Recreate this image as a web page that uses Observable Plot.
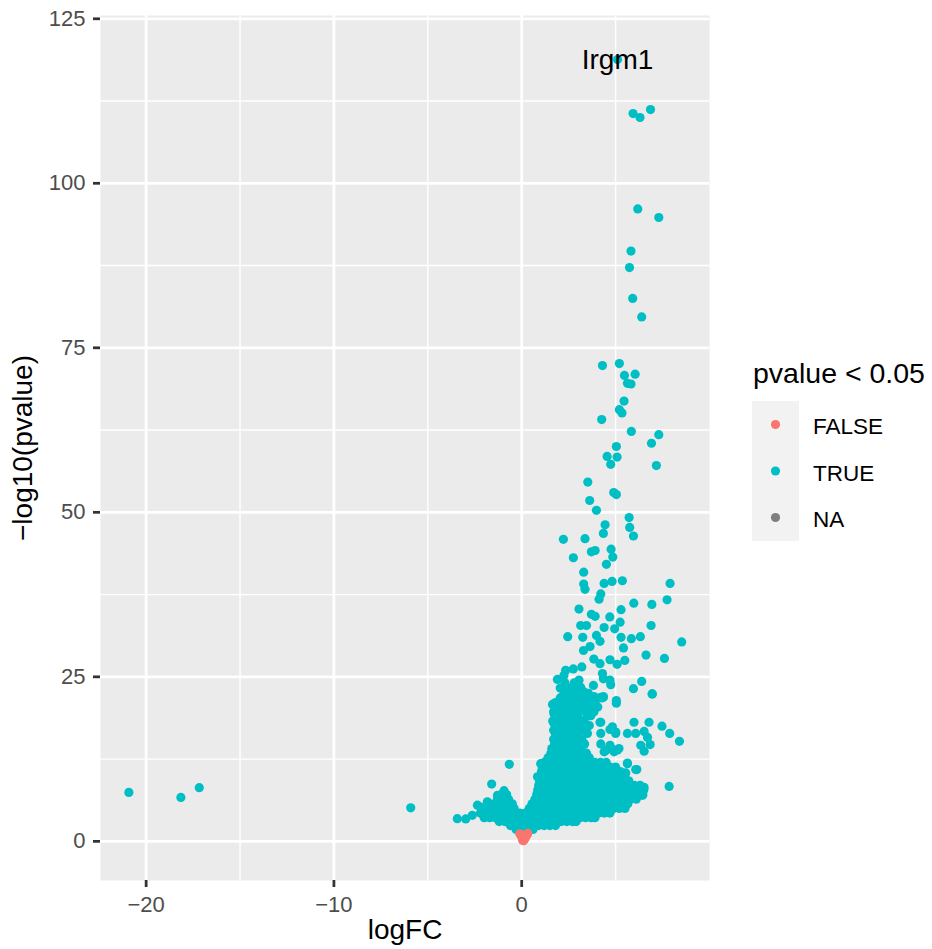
<!DOCTYPE html>
<html><head><meta charset="utf-8">
<script src="https://cdn.jsdelivr.net/npm/d3@7"></script>
<script src="https://cdn.jsdelivr.net/npm/@observablehq/plot@0.6"></script>
<style>
body{margin:0;background:#fff;}
#wrap{position:relative;width:932px;height:949px;font-family:"Liberation Sans",Arial,Helvetica,sans-serif;}
#wrap svg{display:block;}
#legend{position:absolute;left:0;top:0;pointer-events:none;}
</style></head><body><div id="wrap"></div>
<script>
// ---- data: [logFC, -log10(pvalue)] ----
const farLeftGenes = [[-20.92,7.44],[-18.15,6.68],[-17.17,8.15],[-5.91,5.1]];
const leftArmGenes = [[-3.43,3.45],[-2.98,3.4],[-2.63,3.95],[-2.36,5.5],[-2.18,5.2],[-1.83,6.0],[-1.6,8.7],[-0.66,11.7],[-1.29,7.0],[-0.94,7.7],[-0.85,6.7]];
const topGenes = [[5.10,118.8],[5.93,110.6],[6.30,110.0],[6.86,111.2],[6.18,96.1],[7.30,94.8],[5.82,89.7],[5.74,87.2],[5.91,82.5],[6.39,79.7]];
const midGenes = [[4.30,72.3],[5.20,72.6],[5.47,70.8],[6.04,71.0],[5.63,69.6],[5.82,69.5],[5.45,66.9],[5.20,65.6],[5.34,65.1],[4.26,64.1],[5.84,62.3],[7.30,61.8],[6.91,60.5],[5.04,60.0],[4.55,58.5],[5.08,58.4],[4.74,57.3],[7.17,57.1],[3.52,54.6],[4.90,53.0],[5.04,52.7],[3.62,51.8],[3.98,50.3],[5.72,49.2],[4.44,48.1],[5.75,47.7],[4.35,46.8],[5.95,46.4],[2.22,45.9],[3.37,46.0],[3.91,44.2],[3.71,44.0],[4.76,44.4],[4.85,43.2],[2.75,43.1],[4.51,42.1],[3.30,40.9],[3.30,39.1],[3.37,38.3],[4.39,39.2],[4.81,39.5],[5.36,39.6],[7.90,39.2],[4.21,37.6],[4.12,36.8],[7.74,36.7],[5.97,36.2],[6.93,36.0],[3.05,35.3],[5.29,35.2],[3.71,34.5],[3.91,34.2],[4.69,34.1],[5.24,33.3],[3.14,32.8],[3.45,32.8],[4.39,32.5],[4.95,32.3],[6.89,32.8],[2.45,31.1],[3.25,31.0],[3.98,31.3],[5.29,31.0],[5.84,30.8],[6.32,31.1],[8.52,30.3]];
const lowerGenes = [[4.17,30.4],[3.64,29.6],[3.29,29.0],[5.42,29.4],[6.62,28.3],[7.60,27.8],[3.84,27.7],[4.70,27.6],[5.49,27.5],[5.08,26.9],[4.17,27.0],[3.20,26.5],[2.75,26.2],[2.34,26.0],[1.90,24.6],[2.25,25.2],[2.22,23.2],[4.30,25.5],[4.35,24.7],[4.70,24.5],[4.74,23.8],[3.05,24.5],[3.14,23.4],[3.32,22.7],[3.82,23.7],[6.39,24.3],[5.95,23.2],[6.94,22.4],[2.61,21.9],[2.79,22.2],[4.35,22.0],[5.04,21.4],
  [1.64,20.8],[1.86,20.2],[1.72,19.4],[2.79,22.4],[3.32,22.4],[3.85,22.0],[4.35,21.9],[5.04,21.0],[3.68,19.1],[1.72,17.9],[2.25,18.4],[2.61,17.9],[4.17,18.1],[4.83,17.4],[5.01,16.6],[5.98,18.1],[6.78,18.1],[7.47,17.5],[7.88,16.4],[8.40,15.2],[5.63,16.4],[6.07,16.4],[6.52,16.7],[6.70,15.8],[6.34,14.6],[6.84,14.7],[6.52,13.7],[3.14,16.9],[3.50,16.4],[4.21,16.4],[1.90,15.1],[1.72,13.8],[4.70,14.6],[5.18,14.1],[4.39,13.6],[4.92,13.6],[5.63,11.8],[6.07,10.9],[5.10,10.5],[5.45,10.3],[1.01,11.8],[0.84,9.8],
  [4.21,14.8],[4.48,13.8],[4.74,14.1],[5.10,13.9],[4.70,17.0],[5.00,16.4],[4.21,18.1],[5.63,11.9],[5.54,10.4],[6.52,8.2],[6.43,7.0],[6.96,22.4],[4.21,21.9],[7.85,8.35],[6.13,10.9]];
// dense cloud near the origin, row by row: [-log10(pvalue), logFC values]
const denseRows = [
  [1.8,[-0.3,0,0.3,0.6]],
  [2.4,[-0.6,-0.3,0,0.3,0.6,0.9,1.2,1.5,1.8]],
  [3.0,[-1.2,-0.9,-0.6,-0.3,0,0.3,0.6,0.9,1.2,1.5,1.8,2.1,2.4,2.7,2.9]],
  [3.6,[-2.0,-1.7,-1.4,-1.1,-0.8,-0.5,-0.2,0.1,0.4,0.7,1.0,1.3,1.6,1.9,2.2,2.5,2.8,3.1,3.4,3.7,3.9]],
  [4.3,[-2.2,-1.9,-1.6,-1.3,-1.0,-0.7,-0.4,-0.1,0.2,0.5,0.8,1.1,1.4,1.7,2.0,2.3,2.6,2.9,3.2,3.5,3.8,4.1,4.4,4.7]],
  [5.0,[-1.9,-1.6,-1.3,-1.0,-0.7,-0.4,0.4,0.7,1.0,1.3,1.6,1.9,2.2,2.5,2.8,3.1,3.4,3.7,4.0,4.3,4.6,4.9,5.2,5.5]],
  [5.7,[-1.7,-1.4,-1.1,-0.8,-0.5,0.55,0.85,1.15,1.45,1.75,2.05,2.35,2.65,2.95,3.25,3.55,3.85,4.15,4.45,4.75,5.05,5.35,5.65]],
  [6.4,[-1.3,-1.0,-0.7,0.7,1.0,1.3,1.6,1.9,2.2,2.5,2.8,3.1,3.4,3.7,4.0,4.3,4.6,4.9,5.2,5.5,5.8,6.1]],
  [7.1,[-1.1,-0.8,0.8,1.1,1.4,1.7,2.0,2.3,2.6,2.9,3.2,3.5,3.8,4.1,4.4,4.7,5.0,5.3,5.6,5.9,6.2,6.45]],
  [7.8,[0.85,1.15,1.45,1.75,2.05,2.35,2.65,2.95,3.25,3.55,3.85,4.15,4.45,4.75,5.05,5.35,5.65,5.95,6.25,6.5]],
  [8.5,[0.9,1.2,1.5,1.8,2.1,2.4,2.7,3.0,3.3,3.6,3.9,4.2,4.5,4.8,5.1,5.4,5.7,6.0,6.3]],
  [9.2,[0.95,1.25,1.55,1.85,2.15,2.45,2.75,3.05,3.35,3.65,3.95,4.25,4.55,4.85,5.15,5.45,5.7]],
  [9.9,[1.0,1.3,1.6,1.9,2.2,2.5,2.8,3.1,3.4,3.7,4.0,4.3,4.6,4.9,5.2,5.45]],
  [10.6,[1.05,1.35,1.65,1.95,2.25,2.55,2.85,3.15,3.45,3.75,4.05,4.35,4.65,4.95,5.25]],
  [11.3,[1.1,1.4,1.7,2.0,2.3,2.6,2.9,3.2,3.5,3.8,4.1,4.4,4.7,5.0]],
  [12.0,[1.2,1.5,1.8,2.1,2.4,2.7,3.0,3.3,3.6,3.9,4.2,4.5]],
  [12.7,[1.4,1.75,2.1,2.5,2.85,3.2,3.6]],
  [13.4,[1.55,1.9,2.3,2.65,3.0,3.45]],
  [14.1,[1.6,2.0,2.35,2.8,3.15]],
  [14.8,[1.75,2.1,2.5,2.9,3.35]],
  [15.5,[1.7,2.05,2.45,2.8,3.2]],
  [16.2,[1.8,2.2,2.6,2.95]],
  [16.9,[1.7,2.1,2.45,2.85,3.3]],
  [17.6,[1.9,2.3,2.7,3.1,3.6]],
  [18.3,[1.65,2.0,2.45,2.9,3.3]],
  [19.0,[1.85,2.25,2.6,3.0,3.5]],
  [19.7,[1.7,2.1,2.5,2.95,3.4,3.85]],
  [20.4,[1.9,2.3,2.75,3.15,3.6,4.05]],
  [21.1,[1.8,2.2,2.6,3.05,3.5,3.9]],
  [21.8,[2.05,2.45,2.85,3.3,3.75,4.25]],
  [22.5,[2.25,2.65,3.1,3.55]],
  [23.3,[2.05,2.5,2.95]],
  [24.1,[2.3,2.8]]
];
const nonSigGenes = [[-0.05,1.0],[0.25,1.05],[0.0,0.7],[0.2,0.7],[0.1,0.4],[0.05,0.15],[0.1,0.1],[0.12,0.8],[0.05,0.5],[0.18,0.45],[-0.02,0.9],[0.28,0.95],[-0.1,1.15],[0.32,1.2]];
const labelNames = ["Irgm1"];
const labelLogFC = [5.10];
const labelNegLogP = [118.8];
const xTicks = [-20,-10,0];
const xMinor = [-15,-5,5];
const yTicks = [0,25,50,75,100,125];
const yMinor = [12.5,37.5,62.5,87.5,112.5];
const legendTitle = "pvalue < 0.05";
const legendLabels = ["FALSE","TRUE","NA"];
const legendColors = ["#F8766D","#00BFC4","#7F7F7F"];

// ---- tables ----
const sigPairs = [...farLeftGenes, ...leftArmGenes, ...topGenes, ...midGenes, ...lowerGenes,
  ...denseRows.flatMap(([y, xs]) => xs.map(x => [x, y]))];
const sigData = sigPairs.map(([x, y]) => ({logFC: x, nlp: y, sig: "TRUE"}));
const nsData = nonSigGenes.map(([x, y]) => ({logFC: x, nlp: y, sig: "FALSE"}));
const labelData = labelNames.map((g, i) => ({gene: g, logFC: labelLogFC[i], nlp: labelNegLogP[i]}));
const fmt = d => d < 0 ? "\u2212" + Math.abs(d) : String(d);
const FONT = '"Liberation Sans",Arial,Helvetica,sans-serif';

const chart = Plot.plot({
  width: 932, height: 949,
  marginLeft: 100, marginRight: 223, marginTop: 15, marginBottom: 69,
  x: {domain: [-22.43, 10.0]},
  y: {domain: [-5.95, 125.5]},
  color: {domain: legendLabels, range: legendColors},
  style: {fontFamily: FONT, background: "transparent", overflow: "visible"},
  marks: [
    Plot.frame({fill: "#EBEBEB", stroke: null}),
    Plot.ruleX(xMinor, {stroke: "#FFFFFF", strokeWidth: 1.4}),
    Plot.ruleY(yMinor, {stroke: "#FFFFFF", strokeWidth: 1.4}),
    Plot.ruleX(xTicks, {stroke: "#FFFFFF", strokeWidth: 2.75}),
    Plot.ruleY(yTicks, {stroke: "#FFFFFF", strokeWidth: 2.75}),
    Plot.dot(sigData, {x: "logFC", y: "nlp", fill: "sig", r: 4.6}),
    Plot.dot(nsData, {x: "logFC", y: "nlp", fill: "sig", r: 4.6}),
    Plot.text(labelData, {x: "logFC", y: "nlp", text: "gene", fontSize: 28, fill: "#000000"}),
    Plot.axisX(xTicks, {tickSize: 7, tickPadding: 9, strokeWidth: 2.75, stroke: "#333333", fill: "#4D4D4D", fontSize: 22, tickFormat: fmt, label: null}),
    Plot.axisY(yTicks, {tickSize: 7, tickPadding: 8, strokeWidth: 2.75, stroke: "#333333", fill: "#4D4D4D", fontSize: 22, tickFormat: fmt, label: null}),
    Plot.text(["logFC"], {frameAnchor: "bottom", dy: 58, fontSize: 28, fill: "#000000", textAnchor: "middle"}),
    Plot.text(["\u2212log10(pvalue)"], {frameAnchor: "left", dx: -77, rotate: -90, fontSize: 28, fill: "#000000", textAnchor: "middle"})
  ]
});
const wrap = document.getElementById("wrap");
wrap.appendChild(chart);

// ---- legend (ggplot-style) ----
const lg = d3.select(wrap).append("svg").attr("id", "legend")
  .attr("width", 932).attr("height", 949).style("font-family", FONT);
lg.append("text").attr("x", 753).attr("y", 383).attr("font-size", 28.5).attr("fill", "#000").text(legendTitle);
lg.append("rect").attr("x", 752).attr("y", 401).attr("width", 47).attr("height", 140).attr("fill", "#F2F2F2");
legendLabels.forEach((lab, i) => {
  const cy = 424.5 + i * 46.5;
  lg.append("circle").attr("cx", 775.5).attr("cy", cy).attr("r", 4.6).attr("fill", legendColors[i]);
  lg.append("text").attr("x", 813).attr("y", cy + 9.5).attr("font-size", 22.5).attr("fill", "#000").text(lab);
});
</script></body></html>
